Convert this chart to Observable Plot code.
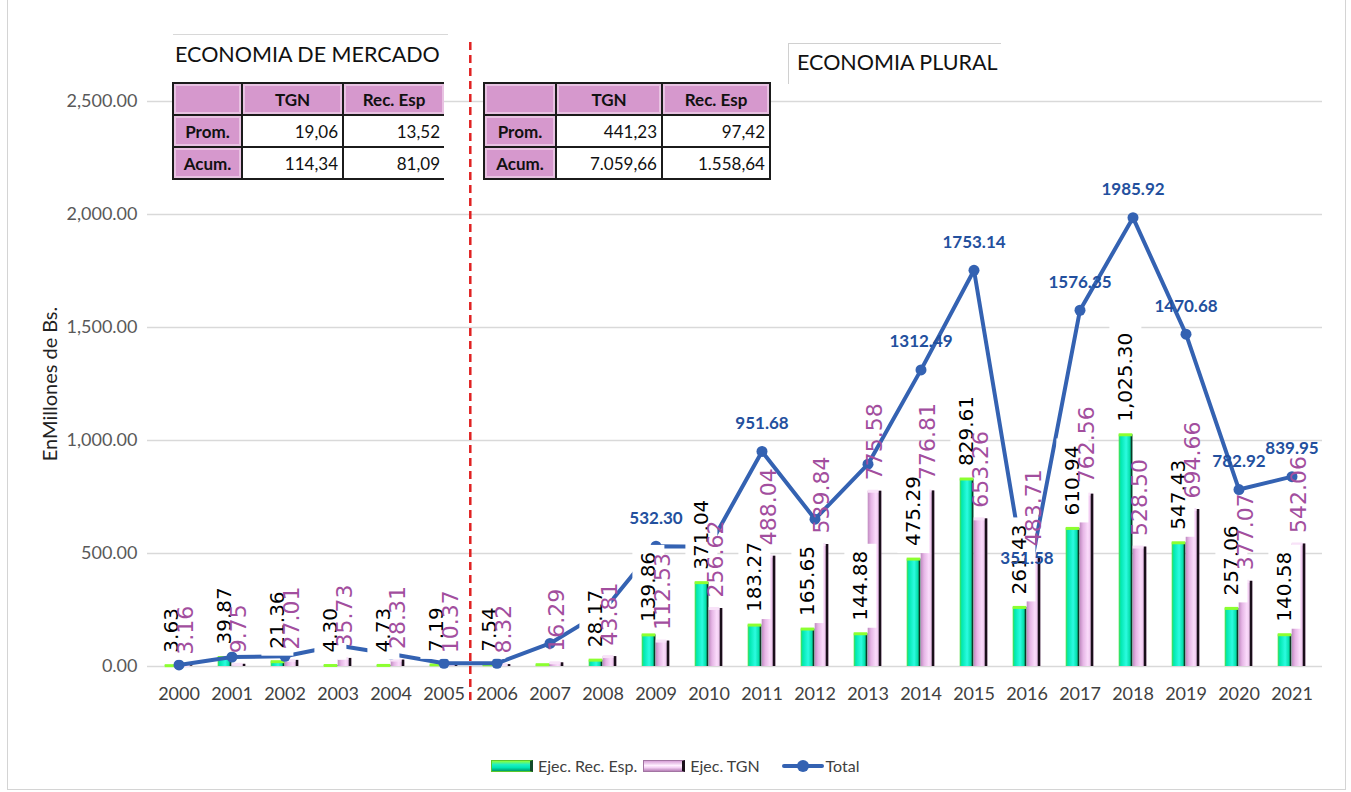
<!DOCTYPE html>
<html><head><meta charset="utf-8">
<script src="https://cdn.jsdelivr.net/npm/d3@7"></script>
<script src="https://cdn.jsdelivr.net/npm/@observablehq/plot@0.6"></script>
<style>
body{margin:0;background:#fff;width:1351px;height:792px;position:relative;overflow:hidden;font-family:Lato,"Open Sans",sans-serif;}
#chart{position:absolute;left:0;top:0;}
.frame{position:absolute;left:7px;top:-2px;width:1337px;height:790px;border:1px solid #d4d4d4;pointer-events:none;}
.title{position:absolute;font-size:21.5px;color:#111;white-space:nowrap;}
.topline{position:absolute;left:173px;top:34px;width:275px;border-top:1.5px solid #d8d8d8;}
.pbox{position:absolute;left:788px;top:43px;width:212px;height:40px;border-top:1.5px solid #d0d0d0;border-left:1.5px solid #d0d0d0;background:#fff;}
table.t{position:absolute;border-collapse:collapse;font-size:17px;color:#111;background:#fff;}
table.t td{border:2px solid #1b1b1b;height:30px;padding:0 4px;text-align:right;}
table.t td.h{background:#d698cd;font-weight:bold;text-align:center;box-shadow:inset 0 0 0 2px #e8c2e2;}
table.t td.l{background:#d698cd;font-weight:bold;text-align:center;box-shadow:inset 0 0 0 2px #e8c2e2;}
table.t1 td:last-child{border-right:none;}
.legend{position:absolute;top:756px;left:491px;display:flex;align-items:center;font-size:16px;color:#404040;white-space:nowrap;}
.sw{width:38px;height:10px;margin-right:5px;}
.sw.g{background:linear-gradient(to bottom,#8cff3a 0%,#22f0c0 35%,#00e6b4 65%,#009a6a 100%);border:1px solid #5bc82a;border-right:3px solid #124a2a;}
.sw.p{background:linear-gradient(to bottom,#d7a0d7 0%,#fff0ff 45%,#f4d2f4 65%,#b880b8 100%);border:1px solid #a274a2;border-right:3px solid #1a101a;}
.ln{position:relative;width:42px;height:4px;background:#3462b2;margin-right:2px;border-radius:2px;}
.ln::after{content:"";position:absolute;left:15px;top:-4px;width:12px;height:12px;border-radius:50%;background:#3462b2;}
</style></head>
<body>
<div id="chart"></div>
<div class="topline"></div>
<div class="title" style="left:175px;top:41px;">ECONOMIA DE MERCADO</div>
<div class="pbox"></div>
<div class="title" style="left:797px;top:49px;">ECONOMIA PLURAL</div>
<div id="tables"></div>
<div class="legend">
  <div class="sw g"></div><span style="margin-right:6px">Ejec. Rec. Esp.</span>
  <div class="sw p"></div><span style="margin-right:22px">Ejec. TGN</span>
  <div class="ln"></div><span>Total</span>
</div>
<div class="frame"></div>
<script>
// ---- data ----
const years = ["2000","2001","2002","2003","2004","2005","2006","2007","2008","2009","2010","2011","2012","2013","2014","2015","2016","2017","2018","2019","2020","2021"];
const recEsp = [3.63, 39.87, 21.36, 4.30, 4.73, 7.19, 7.54, 8.0, 28.17, 139.86, 371.04, 183.27, 165.65, 144.88, 475.29, 829.61, 261.43, 610.94, 1025.30, 547.43, 257.06, 140.58];
const recEspLabels = ["3.63","39.87","21.36","4.30","4.73","7.19","7.54",null,"28.17","139.86","371.04","183.27","165.65","144.88","475.29","829.61","261.43","610.94","1,025.30","547.43","257.06","140.58"];
const tgn = [3.16, 9.75, 27.01, 35.73, 28.31, 10.37, 8.32, 16.29, 43.81, 112.53, 256.62, 488.04, 539.84, 775.58, 776.81, 653.26, 483.71, 762.56, 528.50, 694.66, 377.07, 542.06];
const total = [7, 42, 45, 93, 55, 14, 14, 102, 244, 532.30, 530, 951.68, 652, 895, 1312.49, 1753.14, 351.58, 1576.35, 1985.92, 1470.68, 782.92, 839.95];
const totalLabels = [null,null,null,null,null,null,null,null,null,"532.30",null,"951.68",null,null,"1312.49","1753.14","351.58","1576.35","1985.92","1470.68","782.92","839.95"];
const yTicks = [0, 500, 1000, 1500, 2000, 2500];
const tableHeader = ["", "TGN", "Rec. Esp"];
const rowNames = ["Prom.", "Acum."];
const mercadoTGN = ["19,06", "114,34"];
const mercadoRec = ["13,52", "81,09"];
const pluralTGN = ["441,23", "7.059,66"];
const pluralRec = ["97,42", "1.558,64"];

const rows = years.map((year, i) => ({year, rec: recEsp[i], recLabel: recEspLabels[i], tgn: tgn[i], tgnLabel: d3.format(".2f")(tgn[i]), total: total[i], totalLabel: totalLabels[i]}));

const W = 1351, H = 735, ML = 147, MR = 29, MT = 101, MB = 69;
const half = (W - ML - MR) / years.length / 2;

const chart = Plot.plot({
  width: W, height: H, marginLeft: ML, marginRight: MR, marginTop: MT, marginBottom: MB,
  style: {fontFamily: "Lato, sans-serif", background: "transparent", overflow: "visible"},
  x: {type: "band", domain: years, padding: 0, axis: null},
  y: {domain: [0, 2500], axis: null},
  marks: [
    Plot.gridY(yTicks, {stroke: "#d9d9d9", strokeOpacity: 1, strokeWidth: 1.4}),
    Plot.axisY(yTicks, {tickSize: 0, tickPadding: 10, tickFormat: d3.format(",.2f"), fontSize: 18, fill: "#595959", label: null}),
    Plot.axisX({tickSize: 0, tickPadding: 21, fontSize: 18, fill: "#404040", label: null}),
    Plot.text(["EnMillones de Bs."], {frameAnchor: "left", dx: -97, rotate: -90, textAnchor: "middle", fontSize: 20, fill: "#222", text: d => d}),
    Plot.ruleX(["2006"], {dx: -half, y1: -150, y2: 2770, stroke: "#e02222", strokeWidth: 2.5, strokeDasharray: "8,5"}),
    // Rec. Esp bars
    Plot.barY(rows, {x: "year", y: "rec", insetLeft: half - 14, insetRight: half, fill: "url(#gGreen)"}),
    Plot.barY(rows, {x: "year", y: "rec", insetLeft: half - 2, insetRight: half, fill: "#0d3a26"}),
    Plot.tickY(rows, {x: "year", y: "rec", insetLeft: half - 14, insetRight: half, stroke: "#8cff30", strokeWidth: 3}),
    // TGN bars
    Plot.barY(rows, {x: "year", y: "tgn", insetLeft: half, insetRight: half - 14, fill: "url(#gPink)"}),
    Plot.barY(rows, {x: "year", y: "tgn", insetLeft: half + 11, insetRight: half - 14, fill: "#1a0f1a"}),
    Plot.tickY(rows, {x: "year", y: "tgn", insetLeft: half, insetRight: half - 11, stroke: "#f8e2f8", strokeWidth: 3}),
    // Total line
    Plot.line(rows, {x: "year", y: "total", stroke: "#3462b2", strokeWidth: 4, strokeLinejoin: "round"}),
    Plot.dot(rows, {x: "year", y: "total", r: 5.5, fill: "#3462b2", stroke: "none"}),
    // labels
    Plot.text(rows.filter(d => d.recLabel), {x: "year", y: "rec", text: "recLabel", rotate: -90, textAnchor: "start", lineAnchor: "middle", dx: -7, dy: -13, fontSize: 20, fontFamily: "DejaVu Sans", fill: "#000"}),
    Plot.text(rows, {x: "year", y: "tgn", text: "tgnLabel", rotate: -90, textAnchor: "start", lineAnchor: "middle", dx: 7, dy: -11, fontSize: 22, fontFamily: "DejaVu Sans", fill: "#a24e9e"}),
    Plot.text(rows.filter(d => d.totalLabel), {x: "year", y: "total", text: "totalLabel", dy: -28, fontSize: 17, fontWeight: "bold", fill: "#23509e"})
  ]
});

const defs = document.createElementNS("http://www.w3.org/2000/svg", "defs");
defs.innerHTML = `
<linearGradient id="gGreen" x1="0" x2="1" y1="0" y2="0">
 <stop offset="0" stop-color="#52e040"/><stop offset="0.15" stop-color="#00e8b0"/>
 <stop offset="0.55" stop-color="#2cfbe0"/><stop offset="0.85" stop-color="#00dca4"/><stop offset="1" stop-color="#008a60"/>
</linearGradient>
<linearGradient id="gPink" x1="0" x2="1" y1="0" y2="0">
 <stop offset="0" stop-color="#c08ac0"/><stop offset="0.25" stop-color="#e6b6e6"/>
 <stop offset="0.6" stop-color="#fbdcfb"/><stop offset="1" stop-color="#dcaadc"/>
</linearGradient>`;
chart.prepend(defs);
document.getElementById("chart").append(chart);

// white boxes behind Rec. Esp labels (as in the reference)
const groups = Array.from(chart.querySelectorAll("g")).filter(gr => {
  const t = gr.querySelector(":scope > text");
  return t && t.textContent === recEspLabels[0] && gr.querySelectorAll(":scope > text").length === recEspLabels.filter(Boolean).length;
});
const g = groups[0];
if (g) {
  const texts = Array.from(g.querySelectorAll(":scope > text"));
  const rects = texts.map(t => {
    const b = t.getBBox();
    const r = document.createElementNS("http://www.w3.org/2000/svg", "rect");
    r.setAttribute("x", b.x - 7); r.setAttribute("y", b.y - 4);
    r.setAttribute("width", b.width + 14); r.setAttribute("height", b.height + 8);
    r.setAttribute("transform", t.getAttribute("transform") || "");
    r.setAttribute("fill", "#fff"); r.setAttribute("stroke", "none");
    return r;
  });
  rects.forEach(r => g.insertBefore(r, g.firstChild));
}

// tables
function makeTable(cls, left, top, widths, tgnVals, recVals) {
  const t = document.createElement("table");
  t.className = "t " + cls;
  t.style.left = left + "px"; t.style.top = top + "px";
  const hr = t.insertRow();
  tableHeader.forEach((h, j) => { const c = hr.insertCell(); c.className = "h"; c.textContent = h; c.style.width = widths[j] + "px"; });
  rowNames.forEach((n, i) => {
    const r = t.insertRow();
    const c0 = r.insertCell(); c0.className = "l"; c0.textContent = n;
    const c1 = r.insertCell(); c1.textContent = tgnVals[i];
    const c2 = r.insertCell(); c2.textContent = recVals[i];
  });
  document.getElementById("tables").append(t);
}
makeTable("t1", 172, 82, [59, 91, 92], mercadoTGN, mercadoRec);
makeTable("t2", 483, 82, [62, 96, 98], pluralTGN, pluralRec);
</script>
</body></html>
